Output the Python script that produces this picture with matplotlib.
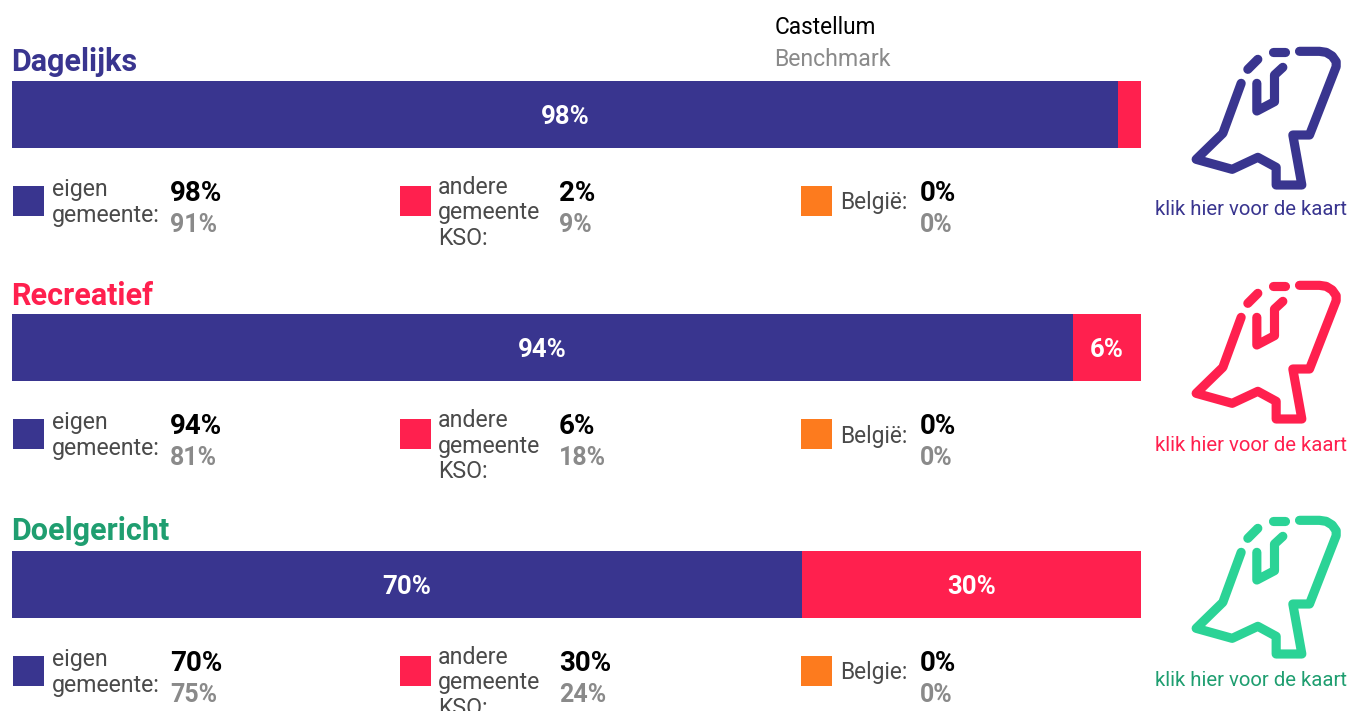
import matplotlib
matplotlib.use("Agg")
import matplotlib.pyplot as plt
from matplotlib.patches import Rectangle

W, H = 1351, 711
FONT = "Roboto"
plt.rcParams["font.family"] = FONT

# Data
groups = ["Dagelijks", "Recreatief", "Doelgericht"]
eigen = [98, 94, 70]
andere = [2, 6, 30]
belgie = [0, 0, 0]
eigen_bench = [91, 81, 75]
andere_bench = [9, 18, 24]
belgie_bench = [0, 0, 0]
belgie_labels = ["België:", "België:", "Belgie:"]
series_names = ["eigen\ngemeente:", "andere\ngemeente\nKSO:"]
link_label = "klik hier voor de kaart"
header = ["Castellum", "Benchmark"]

# Styles and layout (pixels)
NAVY, RED, ORANGE = "#39358f", "#ff204e", "#fd7b1e"
title_colors = ["#39358f", "#ff204e", "#1f9e70"]
icon_colors = ["#39358f", "#ff204e", "#2bd396"]
link_colors = ["#39358f", "#ff204e", "#1f9e70"]
GREY, DARK = "#8a8a8a", "#4a4a4a"
bar_tops = [81, 314, 551]
title_y = [59, 293, 528]
legend_y = [201, 434, 671]
icon_dy = [0, 234, 469]
BAR_H = 67
BAR_L, BAR_R = 12, 1141

main_line = [(305,160),(250,310),(170,388),(278,418),(355,382),(410,412),(410,465),
             (487,465),(460,315),(510,315),(590,110),(590,95),(578,78),(560,67),(540,64),(480,64)]
inner_line = [(430,112),(405,135),(405,215),(352,243),(352,160)]
dash_lines = [[(325,118),(355,88)], [(400,65),(435,65)]]

fig = plt.figure(figsize=(W/100, H/100), dpi=100)
fig.patch.set_facecolor("white")
ov = fig.add_axes([0, 0, 1, 1], zorder=3)
ov.set_xlim(0, W); ov.set_ylim(H, 0); ov.axis("off"); ov.patch.set_alpha(0)

def icon_xy(pts, dy):
    return [p[0]/3 + 1139.5 for p in pts], [p[1]/3 + 30 + dy for p in pts]

for i, name in enumerate(groups):
    ax = fig.add_axes([BAR_L/W, 1-(bar_tops[i]+BAR_H)/H, (BAR_R-BAR_L)/W, BAR_H/H])
    ax.barh([0], [eigen[i]], height=1, color=NAVY)
    ax.barh([0], [andere[i]], left=[eigen[i]], height=1, color=RED)
    ax.set_xlim(0, 100); ax.set_ylim(-.5, .5); ax.axis("off")
    ax.text(eigen[i]/2, 0, f"{eigen[i]}%", color="white", ha="center", va="center_baseline",
            fontsize=18.5, fontweight="bold")
    if andere[i] >= 5:
        ax.text(eigen[i]+andere[i]/2, 0, f"{andere[i]}%", color="white", ha="center",
                va="center_baseline", fontsize=18.5, fontweight="bold")

    ov.text(11, title_y[i], name, color=title_colors[i], fontsize=22, fontweight="bold",
            va="center_baseline", ha="left")

    ly = legend_y[i]
    for x, c in [(13, NAVY), (400, RED), (801, ORANGE)]:
        ov.add_patch(Rectangle((x, ly-15), 31, 30, color=c, lw=0))
    ov.text(52, ly+1.5, series_names[0], color=DARK, fontsize=16.7, va="center", ha="left", linespacing=1.16)
    ov.text(438, ly+12, series_names[1], color=DARK, fontsize=16.7, va="center", ha="left", linespacing=1.16)
    ov.text(840, ly-.5, belgie_labels[i], color=DARK, fontsize=16.3, va="center_baseline", ha="left")
    for x, a, b in [(170, eigen[i], eigen_bench[i]), (559, andere[i], andere_bench[i]),
                    (920, belgie[i], belgie_bench[i])]:
        ov.text(x, ly-10.5, f"{a}%", color="black", fontsize=20, fontweight="bold", va="center_baseline")
        ov.text(x, ly+21.5, f"{b}%", color=GREY, fontsize=18, fontweight="bold", va="center_baseline")

    for pts in [main_line, inner_line] + dash_lines:
        xs, ys = icon_xy(pts, icon_dy[i])
        ov.plot(xs, ys, color=icon_colors[i], lw=6.6, solid_capstyle="round", solid_joinstyle="round")
    ov.text(1251, 207.5+icon_dy[i]+(2 if i else 0), link_label, color=link_colors[i], fontsize=14.7,
            ha="center", va="center_baseline")

ov.text(774.5, 25.5, header[0], color="black", fontsize=16.3, va="center_baseline")
ov.text(774.5, 56.5, header[1], color=GREY, fontsize=16.7, va="center_baseline")

fig.savefig("out.png", dpi=100)
